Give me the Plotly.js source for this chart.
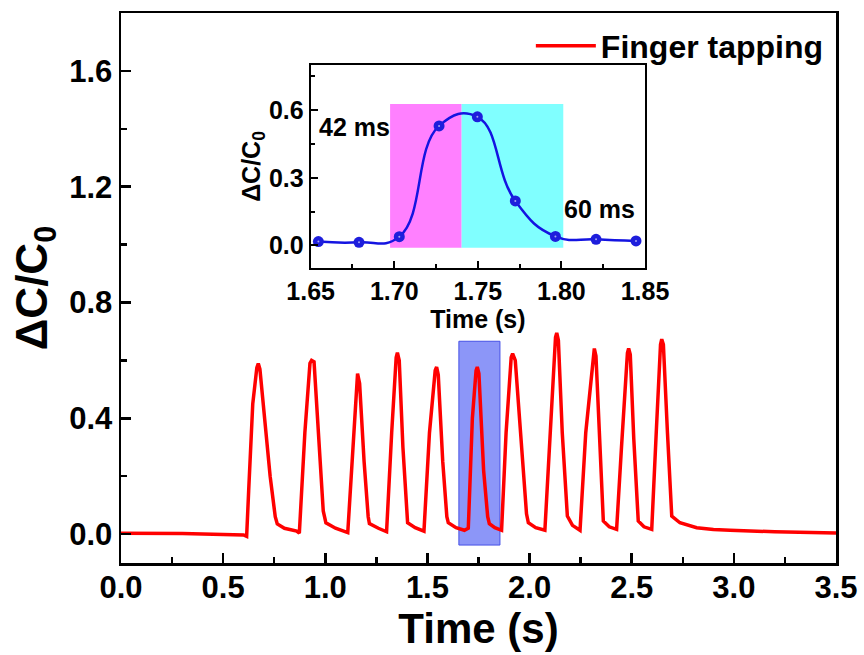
<!DOCTYPE html>
<html>
<head>
<meta charset="utf-8">
<script src="https://cdn.plot.ly/plotly-3.0.1.min.js"></script>
<style>html,body{margin:0;padding:0;background:#fff;}#chart{width:864px;height:655px;}</style>
</head>
<body>
<div id="chart"></div>
<script>
// Main series: finger tapping response
const timeMain = [0, 0.3, 0.6, 0.615, 0.625, 0.645, 0.665, 0.672, 0.68, 0.70, 0.73, 0.755, 0.765, 0.80, 0.86, 0.873,
  0.90, 0.925, 0.933, 0.945, 0.965, 0.99, 1.003, 1.05, 1.110,
  1.135, 1.152, 1.158, 1.168, 1.19, 1.21, 1.216, 1.26, 1.300,
  1.325, 1.347, 1.353, 1.362, 1.38, 1.398, 1.403, 1.44, 1.483,
  1.51, 1.538, 1.545, 1.553, 1.575, 1.595, 1.602, 1.64, 1.681,
  1.70, 1.72, 1.738, 1.744, 1.752, 1.775, 1.795, 1.803, 1.83, 1.863,
  1.885, 1.91, 1.917, 1.93, 1.955, 1.985, 1.994, 2.03, 2.075,
  2.10, 2.127, 2.133, 2.141, 2.16, 2.18, 2.185, 2.21, 2.247,
  2.275, 2.311, 2.317, 2.325, 2.34, 2.357, 2.361, 2.39, 2.426,
  2.45, 2.479, 2.485, 2.493, 2.51, 2.528, 2.532, 2.56, 2.598,
  2.62, 2.641, 2.647, 2.655, 2.675, 2.692, 2.696, 2.736, 2.818, 2.9, 2.981, 3.2, 3.5];
const dcMain = [0.003, 0.002, -0.003, -0.008, 0.15, 0.45, 0.575, 0.589, 0.57, 0.42, 0.2, 0.06, 0.035, 0.02, 0.01, 0.003,
  0.35, 0.59, 0.600, 0.595, 0.35, 0.08, 0.039, 0.02, 0.005,
  0.3, 0.53, 0.554, 0.52, 0.25, 0.06, 0.036, 0.02, 0.008,
  0.35, 0.61, 0.627, 0.6, 0.3, 0.07, 0.039, 0.022, 0.010,
  0.35, 0.565, 0.577, 0.55, 0.25, 0.06, 0.039, 0.022, 0.013,
  0.02, 0.40, 0.565, 0.577, 0.555, 0.22, 0.06, 0.036, 0.022, 0.013,
  0.35, 0.61, 0.623, 0.60, 0.35, 0.07, 0.039, 0.022, 0.013,
  0.35, 0.68, 0.695, 0.67, 0.35, 0.09, 0.062, 0.03, 0.013,
  0.35, 0.625, 0.641, 0.615, 0.35, 0.07, 0.045, 0.025, 0.016,
  0.3, 0.625, 0.641, 0.62, 0.33, 0.07, 0.045, 0.025, 0.016,
  0.35, 0.655, 0.673, 0.655, 0.35, 0.09, 0.062, 0.039, 0.022, 0.016, 0.013, 0.008, 0.004];

// Inset series: single tap (zoom 1.65-1.85 s)
const timeInset = [1.6546, 1.6789, 1.7030, 1.7268, 1.7497, 1.7724, 1.7964, 1.8207, 1.8446];
const dcInset = [0.017, 0.014, 0.039, 0.53, 0.57, 0.197, 0.040, 0.027, 0.020];

// Annotated intervals
const responseLabel = "42 ms";
const recoveryLabel = "60 ms";
const responseWindow = [1.6975, 1.7403];
const recoveryWindow = [1.7403, 1.8011];
const windowTop = 0.627;
const zoomWindowX = [1.654, 1.855];
const zoomWindowY = [-0.038, 0.666];

const mainXTicks = [0, 0.5, 1.0, 1.5, 2.0, 2.5, 3.0, 3.5];
const mainYTicks = [0, 0.4, 0.8, 1.2, 1.6];
const insetXTicks = [1.65, 1.70, 1.75, 1.80, 1.85];
const insetYTicks = [0, 0.3, 0.6];

const FONT = "Arial, 'Liberation Sans', sans-serif";
const bold = (size) => ({family: FONT, size: size, color: '#000', weight: 'bold'});

const traces = [
  {x: timeMain, y: dcMain, type: 'scatter', mode: 'lines', name: 'Finger tapping',
   line: {color: 'rgb(255,0,0)', width: 3.5}, xaxis: 'x', yaxis: 'y'},
  {x: timeInset, y: dcInset, type: 'scatter', mode: 'lines+markers', showlegend: false,
   line: {color: 'rgb(20,20,225)', width: 2.5, shape: 'spline', smoothing: 1.3},
   marker: {color: 'rgb(30,30,220)', size: 11}, xaxis: 'x2', yaxis: 'y2'},
  {x: timeInset, y: dcInset, type: 'scatter', mode: 'markers', showlegend: false, hoverinfo: 'skip',
   marker: {color: 'rgba(255,255,255,0.6)', size: 2}, xaxis: 'x2', yaxis: 'y2'}
];

const axisCommon = {
  showline: true, linecolor: '#000', linewidth: 2.5, mirror: true,
  ticks: 'inside', tickcolor: '#000', tickwidth: 2.5,
  showgrid: false, zeroline: false
};

const layout = {
  width: 864, height: 655,
  margin: {l: 121, r: 28, t: 13, b: 92},
  paper_bgcolor: '#fff', plot_bgcolor: '#fff',
  showlegend: true,
  legend: {x: 0.99, y: 0.99, xanchor: 'right', yanchor: 'top', font: bold(32),
           bgcolor: 'rgba(0,0,0,0)', itemwidth: 60},
  xaxis: Object.assign({}, axisCommon, {
    range: [0, 3.5], tickvals: mainXTicks, tickformat: '.1f', ticklen: 10,
    tickfont: bold(31), ticklabelstandoff: -5,
    minor: {ticks: 'inside', dtick: 0.25, tick0: 0, ticklen: 6, tickwidth: 2.5, tickcolor: '#000'},
    title: {text: 'Time (s)', font: bold(42), standoff: 6},
    domain: [0, 1]
  }),
  yaxis: Object.assign({}, axisCommon, {
    range: [-0.1, 1.8], tickvals: mainYTicks, tickformat: '.1f', ticklen: 10,
    tickfont: bold(31),
    minor: {ticks: 'inside', dtick: 0.2, tick0: 0, ticklen: 6, tickwidth: 2.5, tickcolor: '#000'},
    title: {text: 'ΔC/C<sub>0</sub>', font: bold(44), standoff: 8},
    domain: [0, 1]
  }),
  xaxis2: Object.assign({}, axisCommon, {
    anchor: 'y2', domain: [0.2653, 0.7329],
    range: [1.65, 1.85], tickvals: insetXTicks, tickformat: '.2f', ticklen: 7,
    linewidth: 2, tickwidth: 2,
    tickfont: bold(25),
    minor: {ticks: 'inside', dtick: 0.025, tick0: 1.65, ticklen: 4, tickwidth: 2, tickcolor: '#000'},
    title: {text: 'Time (s)', font: bold(25), standoff: 2}
  }),
  yaxis2: Object.assign({}, axisCommon, {
    anchor: 'x2', domain: [0.5364, 0.9055],
    range: [-0.1, 0.8], tickvals: insetYTicks, tickformat: '.1f', ticklen: 7,
    linewidth: 2, tickwidth: 2,
    tickfont: bold(25),
    minor: {ticks: 'inside', dtick: 0.15, tick0: 0, ticklen: 4, tickwidth: 2, tickcolor: '#000'},
    title: {text: 'ΔC/C<sub>0</sub>', font: bold(25), standoff: 0}
  }),
  shapes: [
    {type: 'rect', xref: 'x', yref: 'y', x0: zoomWindowX[0], x1: zoomWindowX[1], y0: zoomWindowY[0], y1: zoomWindowY[1],
     fillcolor: 'rgb(140,150,248)', line: {color: 'rgb(70,80,230)', width: 1}, layer: 'below'},
    {type: 'rect', xref: 'x2', yref: 'y2', x0: responseWindow[0], x1: responseWindow[1], y0: -0.01, y1: windowTop,
     fillcolor: 'rgb(255,128,255)', line: {width: 0}, layer: 'below'},
    {type: 'rect', xref: 'x2', yref: 'y2', x0: recoveryWindow[0], x1: recoveryWindow[1], y0: -0.01, y1: windowTop,
     fillcolor: 'rgb(128,255,255)', line: {width: 0}, layer: 'below'}
  ],
  annotations: [
    {xref: 'x2', yref: 'y2', x: 1.6765, y: 0.527, text: responseLabel, showarrow: false, font: bold(25)},
    {xref: 'x2', yref: 'y2', x: 1.823, y: 0.162, text: recoveryLabel, showarrow: false, font: bold(25)}
  ]
};

Plotly.newPlot('chart', traces, layout, {displayModeBar: false, staticPlot: true});
</script>
</body>
</html>
